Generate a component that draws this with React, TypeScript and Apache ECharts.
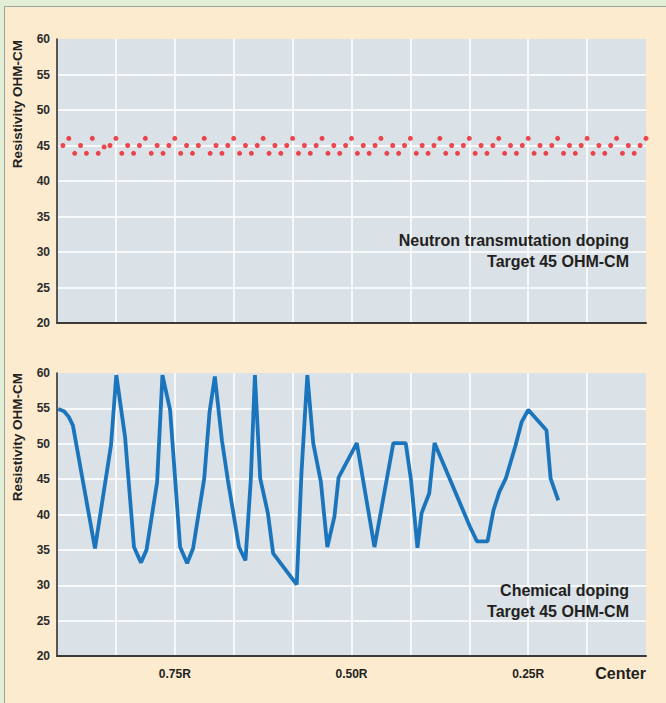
import React, { useEffect, useRef } from "react";
import * as echarts from "echarts";

// Top panel: neutron transmutation doping, one reading every 0.1 unit along the radius
const neutronValues = [
  45, 46, 43.9, 45, 43.9, 46, 43.9, 44.8, 45, 46,
  43.9, 45, 43.9, 45, 46, 43.9, 45, 43.9, 45, 46,
  43.9, 45, 43.9, 45, 46, 43.9, 45, 43.9, 45, 46,
  43.9, 45, 43.9, 45, 46, 43.9, 45, 43.9, 45, 46,
  43.9, 45, 43.9, 45, 46, 43.9, 45, 43.9, 45, 46,
  43.9, 45, 43.9, 45, 46, 43.9, 45, 43.9, 45, 46,
  43.9, 45, 43.9, 45, 46, 43.9, 45, 43.9, 45, 46,
  43.9, 45, 43.9, 45, 46, 43.9, 45, 43.9, 45, 46,
  43.9, 45, 43.9, 45, 46, 43.9, 45, 43.9, 45, 46,
  43.9, 45, 43.9, 45, 46, 43.9, 45, 43.9, 45, 46,
];

// Bottom panel: chemical doping
const chemX = [
  0.02, 0.12, 0.2, 0.27, 0.645, 0.917, 1.007, 1.155, 1.307, 1.426, 1.52,
  1.7, 1.79, 1.92, 2.09, 2.21, 2.31, 2.5, 2.59, 2.68, 2.8, 2.9,
  3.09, 3.2, 3.29, 3.36, 3.45, 3.58, 3.67, 4.07, 4.15, 4.25, 4.35, 4.48,
  4.59, 4.71, 4.78, 5.09, 5.39, 5.71, 5.92, 6.01, 6.12, 6.19, 6.32, 6.41,
  7.01, 7.13, 7.31, 7.41, 7.51, 7.62, 7.78, 7.89, 8.0, 8.31, 8.38, 8.51,
];
const chemY = [
  54.9, 54.6, 53.8, 52.6, 35.2, 49.8, 59.7, 51.0, 35.4, 33.2, 35.0,
  44.6, 59.7, 54.8, 35.4, 33.1, 35.2, 45.1, 54.5, 59.5, 50.5, 44.9,
  35.4, 33.5, 44.9, 59.7, 45.1, 40.2, 34.5, 30.1, 45.8, 59.7, 50.1, 44.6,
  35.4, 39.7, 45.2, 50.1, 35.4, 50.1, 50.1, 44.9, 35.3, 40.2, 43.0, 50.1,
  38.3, 36.2, 36.2, 40.6, 43.2, 45.1, 49.6, 53.1, 54.8, 51.9, 45.1, 42.0,
];

const xTickValues = [2, 5, 8];
const xTickLabels = ["0.75R", "0.50R", "0.25R"];
const yAxisTitle = "Resistivity OHM-CM";
const topNote = ["Neutron transmutation doping", "Target 45 OHM-CM"];
const bottomNote = ["Chemical doping", "Target 45 OHM-CM"];
const endLabel = "Center";

const FONT = '"Liberation Sans", Arial, Helvetica, sans-serif';
const TEXT = "#231f20";

function textEl(text: string, x: number, y: number, size: number, align: string, extra: any = {}) {
  return {
    type: "text",
    z: 100,
    x,
    y,
    ...extra,
    style: {
      text,
      x: 0,
      y: 0,
      fill: TEXT,
      font: `bold ${size}px ${FONT}`,
      align,
      textAlign: align,
      verticalAlign: "middle",
      textVerticalAlign: "middle",
    },
  };
}

export default function App() {
  const ref = useRef<HTMLDivElement>(null);
  useEffect(() => {
    if (!ref.current) return;
    const chart = echarts.init(ref.current, null, { renderer: "svg" });

    const xAxisBase = {
      type: "value",
      min: 0,
      max: 10,
      interval: 1,
      axisLine: { show: true, lineStyle: { color: "#3a3a3a", width: 2 } },
      axisTick: { show: false },
      splitLine: { show: true, showMaxLine: false, lineStyle: { color: "#ffffff", width: 1.5 } },
    };
    const yAxisBase = {
      type: "value",
      min: 20,
      max: 60,
      interval: 5,
      axisLine: { show: true, lineStyle: { color: "#231f20", width: 1.5 } },
      axisTick: { show: false },
      axisLabel: {
        color: "#2b2b2b",
        fontWeight: "bold",
        fontSize: 12,
        fontFamily: FONT,
        margin: 7,
        padding: [0, 0, 6, 0],
      },
      splitLine: { show: true, showMaxLine: false, showMinLine: false, lineStyle: { color: "#ffffff", width: 1.5 } },
    };

    const option: any = {
      animation: false,
      backgroundColor: "#e3eed7",
      grid: [
        { left: 57, top: 39, width: 589, height: 284, show: true, backgroundColor: "#dae1e7", borderWidth: 0 },
        { left: 57, top: 373, width: 589, height: 283, show: true, backgroundColor: "#dae1e7", borderWidth: 0 },
      ],
      xAxis: [
        { ...xAxisBase, gridIndex: 0, axisLabel: { show: false } },
        {
          ...xAxisBase,
          gridIndex: 1,
          axisLabel: {
            show: true,
            color: TEXT,
            fontWeight: "bold",
            fontSize: 12,
            fontFamily: FONT,
            margin: 12,
            formatter: (v: number) => {
              const i = xTickValues.indexOf(v);
              return i >= 0 ? xTickLabels[i] : "";
            },
          },
        },
      ],
      yAxis: [
        { ...yAxisBase, gridIndex: 0 },
        { ...yAxisBase, gridIndex: 1 },
      ],
      series: [
        {
          type: "scatter",
          xAxisIndex: 0,
          yAxisIndex: 0,
          symbol: "circle",
          symbolSize: 5,
          itemStyle: { color: "#ed1c24" },
          data: neutronValues.map((v, i) => [(i + 1) / 10, v]),
        },
        {
          type: "line",
          xAxisIndex: 1,
          yAxisIndex: 1,
          showSymbol: false,
          symbol: "none",
          lineStyle: { color: "#1a75bc", width: 3.8 },
          data: chemX.map((x, i) => [x, chemY[i]]),
        },
      ],
      graphic: [
        { type: "rect", z: -100, shape: { x: 5, y: 7, width: 661, height: 696 }, style: { fill: "#fdebd0" } },
        { type: "line", z: -90, shape: { x1: 4.5, y1: 6.5, x2: 4.5, y2: 703 }, style: { stroke: "#9aa59a", lineWidth: 1 } },
        { type: "line", z: -90, shape: { x1: 4.5, y1: 6.5, x2: 666, y2: 6.5 }, style: { stroke: "#9aa59a", lineWidth: 1 } },
        textEl(yAxisTitle, 17, 40, 13.5, "right", { rotation: Math.PI / 2 }),
        textEl(yAxisTitle, 17, 373, 13.5, "right", { rotation: Math.PI / 2 }),
        textEl(topNote[0], 629, 240, 16, "right"),
        textEl(topNote[1], 629, 261, 16, "right"),
        textEl(bottomNote[0], 629, 590, 16, "right"),
        textEl(bottomNote[1], 629, 611, 16, "right"),
        textEl(endLabel, 646, 673, 16, "right"),
      ],
    };
    chart.setOption(option);
    return () => chart.dispose();
  }, []);
  return <div ref={ref} style={{ position: "absolute", left: 0, top: 0, width: 666, height: 703 }} />;
}
